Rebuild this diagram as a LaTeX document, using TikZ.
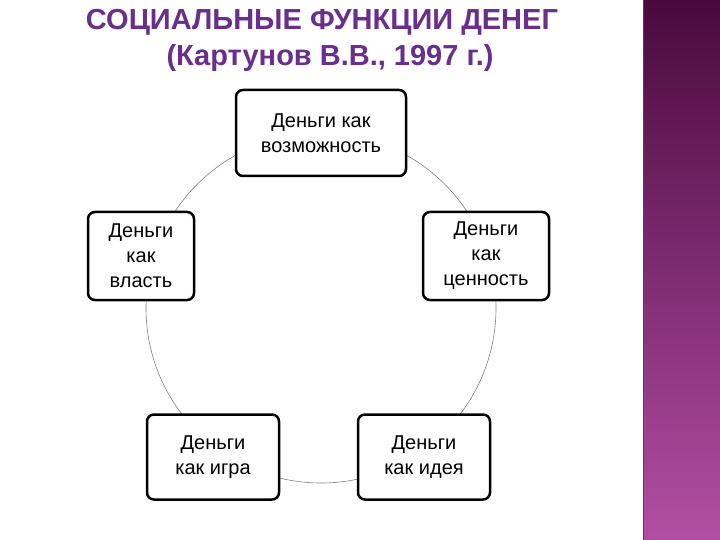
\documentclass[tikz,border=0pt]{standalone}
\usepackage{fontspec}
\setmainfont{Liberation Sans}
\begin{document}
\begin{tikzpicture}[x=1pt,y=-1pt,
  box/.style={draw=black,line width=2.5pt,rounded corners=7pt,fill=white,align=center,font=\fontsize{20}{25}\selectfont,inner sep=0pt},
  ttl/.style={font=\bfseries\fontsize{29}{34}\selectfont,text=ttlc}]
\definecolor{ttlc}{HTML}{6A2E8C}
\definecolor{bandtop}{HTML}{4A0A3E}
\definecolor{bandbot}{HTML}{B24EA4}
\useasboundingbox (0,0) rectangle (720,540);
\fill[white] (0,0) rectangle (720,540);
\shade[top color=bandtop,bottom color=bandbot] (643,0) rectangle (720,540);
\draw[black!70,line width=1pt] (643,0) -- (643,540);
\node[ttl] (t1) at (322,22) {СОЦИАЛЬНЫЕ ФУНКЦИИ ДЕНЕГ};
\node[ttl] (t2) at (330,58) {(Картунов В.В., 1997 г.)};
\draw[gray,line width=0.6pt] (321,308) circle (175);
\node[box,minimum width=170,minimum height=86] (a) at (321,133) {Деньги как\\возможность};
\node[box,minimum width=106,minimum height=88] (b) at (141,256) {Деньги\\как\\власть};
\node[box,minimum width=126,minimum height=88] (c) at (486,256) {Деньги\\как\\ценность};
\node[box,minimum width=132,minimum height=85] (d) at (213,457) {Деньги\\как игра};
\node[box,minimum width=132,minimum height=85] (e) at (424,457) {Деньги\\как идея};
\end{tikzpicture}
\end{document}
